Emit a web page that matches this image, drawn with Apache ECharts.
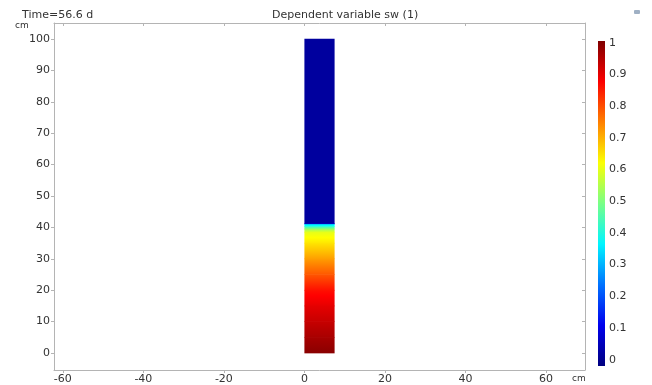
<!DOCTYPE html>
<html>
<head>
<meta charset="utf-8">
<script src="https://cdn.jsdelivr.net/npm/echarts@6/dist/echarts.min.js"></script>
<style>
    html, body { margin: 0; padding: 0; background: #fff; }
    #chart { width: 652px; height: 385px; }
</style>
</head>
<body>
<div id="chart"></div>
<script>
    // sw profile along the column (depth in cm)
    var depth = [0, 5, 10, 15, 20, 25, 30, 35, 38.5, 39.5, 40.3, 41, 41.3, 100];
    var sw = [0.99, 0.96, 0.93, 0.9, 0.86, 0.79, 0.72, 0.65, 0.6, 0.52, 0.42, 0.33, 0.03, 0.03];
    var columnX = [0, 7.5];
    var xTicks = [-60, -40, -20, 0, 20, 40, 60];
    var yTicks = [0, 10, 20, 30, 40, 50, 60, 70, 80, 90, 100];
    var cbarTicks = [0, 0.1, 0.2, 0.3, 0.4, 0.5, 0.6, 0.7, 0.8, 0.9, 1];

    var jetStops = [
        [0, [0, 0, 127]],
        [0.125, [0, 0, 255]],
        [0.375, [0, 255, 255]],
        [0.625, [255, 255, 0]],
        [0.875, [255, 0, 0]],
        [1, [127, 0, 0]]
    ];

    function jet(v) {
        v = Math.max(0, Math.min(1, v));
        for (var i = 1; i < jetStops.length; i++) {
            if (v <= jetStops[i][0]) {
                var a = jetStops[i - 1], b = jetStops[i];
                var t = (v - a[0]) / (b[0] - a[0]);
                var c = [0, 1, 2].map(function (k) {
                    return Math.round(a[1][k] + (b[1][k] - a[1][k]) * t);
                });
                return 'rgb(' + c.join(',') + ')';
            }
        }
        return 'rgb(127,0,0)';
    }

    function gradient(v0, v1) {
        var stops = [];
        for (var k = 0; k <= 8; k++) {
            var v = v0 + (v1 - v0) * k / 8;
            stops.push({ offset: k / 8, color: jet(v) });
        }
        return { type: 'linear', x: 0, y: 1, x2: 0, y2: 0, colorStops: stops };
    }

    var cells = [];
    for (var i = 0; i < depth.length - 1; i++) {
        cells.push([columnX[0], columnX[1], depth[i], depth[i + 1], sw[i], sw[i + 1]]);
    }

    var cbarMin = -0.02, cbarMax = 1.006;
    var axisColor = '#b4b4b4';
    var textColor = '#333';
    var font = 'DejaVu Sans';

    var chart = echarts.init(document.getElementById('chart'));
    chart.setOption({
        animation: false,
        textStyle: { fontFamily: font },
        grid: [
            { left: 54, right: 67, top: 23, bottom: 14 },
            { left: 598, width: 7, top: 41, height: 325 }
        ],
        xAxis: [
            {
                type: 'value', gridIndex: 0, min: -62.2, max: 69.7,
                axisLine: { onZero: false, lineStyle: { color: axisColor } },
                axisTick: { length: 3, lineStyle: { color: axisColor }, customValues: xTicks },
                axisLabel: { customValues: xTicks, margin: 4, fontSize: 11, color: textColor, fontFamily: font },
                splitLine: { show: false }
            },
            {
                type: 'value', gridIndex: 0, position: 'top', min: -62.2, max: 69.7,
                axisLine: { show: true, onZero: false, lineStyle: { color: axisColor } },
                axisTick: { inside: true, length: 3, lineStyle: { color: axisColor }, customValues: xTicks },
                axisLabel: { show: false },
                splitLine: { show: false }
            },
            { type: 'value', gridIndex: 1, min: 0, max: 1, show: false }
        ],
        yAxis: [
            {
                type: 'value', gridIndex: 0, min: -5.4, max: 105.1,
                axisLine: { show: true, onZero: false, lineStyle: { color: axisColor } },
                axisTick: { show: true, length: 3, lineStyle: { color: axisColor }, customValues: yTicks },
                axisLabel: { customValues: yTicks, margin: 4, fontSize: 11, color: textColor, fontFamily: font },
                splitLine: { show: false }
            },
            {
                type: 'value', gridIndex: 0, position: 'right', min: -5.4, max: 105.1,
                axisLine: { show: true, onZero: false, lineStyle: { color: axisColor } },
                axisTick: { show: true, inside: true, length: 3, lineStyle: { color: axisColor }, customValues: yTicks },
                axisLabel: { show: false },
                splitLine: { show: false }
            },
            {
                type: 'value', gridIndex: 1, position: 'right', min: cbarMin, max: cbarMax,
                axisLine: { show: false },
                axisTick: { show: false },
                axisLabel: { customValues: cbarTicks, margin: 4, fontSize: 11, color: textColor, fontFamily: font },
                splitLine: { show: false }
            }
        ],
        graphic: [
            { type: 'text', left: 22, top: 10, style: { text: 'Time=56.6 d', font: '11px "DejaVu Sans"', fill: textColor } },
            { type: 'text', left: 272, top: 10, style: { text: 'Dependent variable sw (1)', font: '11px "DejaVu Sans"', fill: textColor } },
            { type: 'text', left: 15, top: 21, style: { text: 'cm', font: '9px "DejaVu Sans"', fill: textColor } },
            { type: 'text', left: 572, top: 374, style: { text: 'cm', font: '9px "DejaVu Sans"', fill: textColor } },
            { type: 'rect', left: 634, top: 10, shape: { width: 6, height: 4, r: 1 }, style: { fill: '#9fb0c4' } }
        ],
        series: [
            {
                type: 'custom',
                xAxisIndex: 0, yAxisIndex: 0,
                silent: true,
                data: cells,
                encode: { x: [0, 1], y: [2, 3] },
                renderItem: function (params, api) {
                    var p0 = api.coord([api.value(0), api.value(2)]);
                    var p1 = api.coord([api.value(1), api.value(3)]);
                    return {
                        type: 'rect',
                        shape: { x: p0[0], y: p1[1] - 0.3, width: p1[0] - p0[0], height: p0[1] - p1[1] + 0.6 },
                        style: { fill: gradient(api.value(4), api.value(5)) }
                    };
                }
            },
            {
                type: 'custom',
                xAxisIndex: 2, yAxisIndex: 2,
                silent: true,
                data: [[0, 1, cbarMin, cbarMax]],
                encode: { x: [0, 1], y: [2, 3] },
                renderItem: function (params, api) {
                    var p0 = api.coord([api.value(0), api.value(2)]);
                    var p1 = api.coord([api.value(1), api.value(3)]);
                    return {
                        type: 'rect',
                        shape: { x: p0[0], y: p1[1], width: p1[0] - p0[0], height: p0[1] - p1[1] },
                        style: { fill: gradient(cbarMin, cbarMax) }
                    };
                }
            }
        ]
    });
</script>
</body>
</html>
